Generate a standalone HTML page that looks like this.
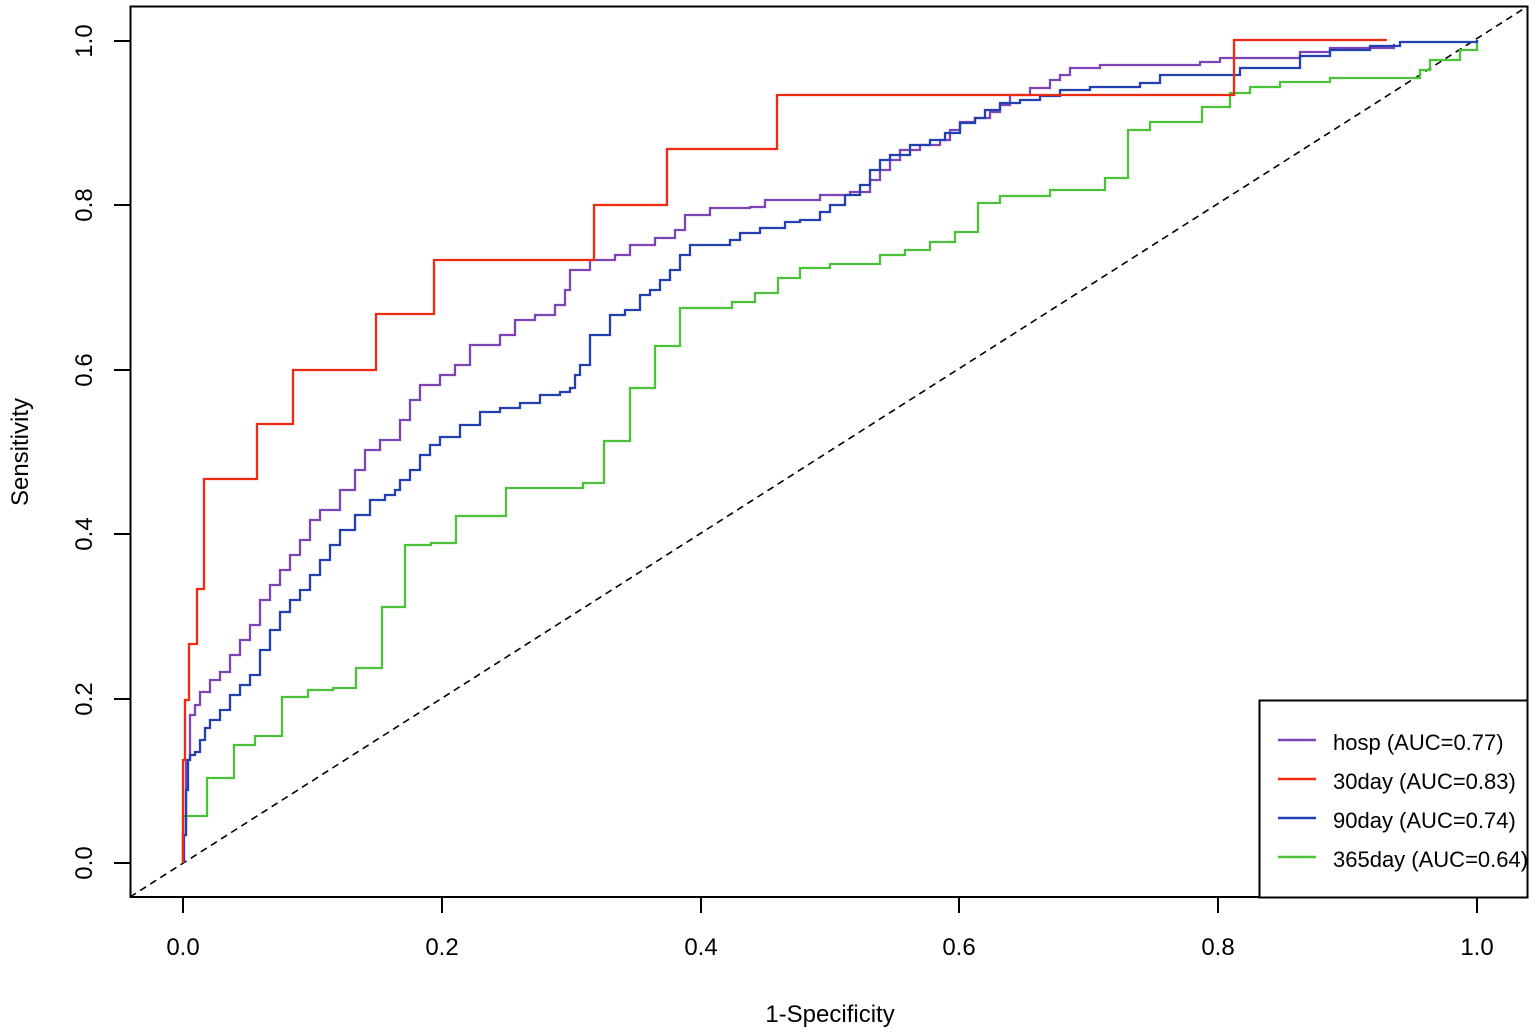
<!DOCTYPE html>
<html><head><meta charset="utf-8"><style>
html,body{margin:0;padding:0;background:#fff;}
svg{display:block;}
text{font-family:"Liberation Sans",sans-serif;fill:#000;}
</style></head><body>
<svg width="1535" height="1034" viewBox="0 0 1535 1034" xmlns="http://www.w3.org/2000/svg">
<rect width="1535" height="1034" fill="#fff"/>
<line x1="130" y1="897" x2="1528" y2="6" stroke="#000" stroke-width="1.6" stroke-dasharray="7,5"/>
<path fill="none" stroke="#4cc23a" stroke-width="2.3" d="M183,863 V816 H207 V778 H234 V745 H255 V736 H282 V697 H308 V690 H333 V688 H356 V668 H382 V607 H405 V545 H431 V543 H456 V516 H506 V488 H583 V483 H604 V441 H630 V388 H655 V346 H680 V308 H732 V302 H755 V293 H778 V278 H800 V268 H830 V264 H880 V255 H905 V250 H930 V242 H955 V232 H978 V203 H1000 V196 H1050 V190 H1105 V178 H1128 V130 H1150 V122 H1202 V107 H1230 V93 H1250 V87 H1280 V82 H1330 V78 H1420 V70 H1430 V60 H1460 V50 H1477 V40"/>
<path fill="none" stroke="#7d44b8" stroke-width="2.3" d="M183,863 V835 H186 V760 H190 V715 H195 V705 H200 V692 H210 V680 H220 V672 H230 V655 H240 V640 H250 V625 H260 V600 H270 V585 H280 V570 H290 V555 H300 V540 H310 V520 H320 V510 H340 V490 H355 V470 H365 V450 H380 V440 H400 V420 H410 V400 H420 V385 H440 V375 H455 V365 H470 V345 H500 V335 H515 V320 H535 V315 H555 V305 H565 V290 H570 V270 H590 V260 H615 V255 H630 V245 H655 V238 H675 V230 H685 V215 H710 V208 H750 V207 H765 V200 H820 V195 H850 V192 H870 V180 H880 V170 H890 V160 H900 V150 H920 V145 H940 V140 H950 V130 H960 V122 H975 V118 H990 V112 H1000 V105 H1010 V95 H1030 V88 H1050 V80 H1060 V75 H1070 V68 H1100 V65 H1200 V62 H1220 V58 H1300 V52 H1330 V48 H1394 V44"/>
<path fill="none" stroke="#2340b0" stroke-width="2.3" d="M184,863 V835 H186 V790 H188 V760 H190 V755 H195 V752 H200 V740 H205 V728 H210 V720 H220 V710 H230 V695 H240 V685 H250 V675 H260 V650 H270 V630 H280 V612 H290 V600 H300 V590 H310 V575 H320 V560 H330 V545 H340 V530 H355 V515 H370 V500 H385 V495 H395 V490 H400 V480 H410 V470 H420 V455 H430 V445 H440 V437 H460 V425 H480 V412 H500 V408 H520 V403 H540 V395 H560 V392 H570 V388 H575 V375 H580 V365 H590 V335 H610 V315 H625 V310 H640 V295 H650 V290 H660 V280 H670 V270 H680 V255 H690 V245 H730 V240 H740 V233 H760 V228 H785 V222 H800 V220 H820 V212 H830 V205 H845 V195 H860 V185 H870 V170 H880 V160 H890 V155 H910 V145 H930 V140 H945 V133 H960 V123 H975 V118 H985 V110 H1000 V103 H1020 V100 H1040 V96 H1060 V90 H1090 V87 H1140 V83 H1160 V75 H1240 V68 H1300 V56 H1330 V50 H1370 V46 H1400 V42 H1477 V40"/>
<path fill="none" stroke="#ee2a10" stroke-width="2.3" d="M183,863 V760 H185 V700 H189 V644 H197 V589 H204 V479 H257 V424 H293 V370 H376 V314 H434 V260 H594 V205 H667 V149 H777 V95 H1234 V40 H1387"/>
<rect x="130.5" y="6.5" width="1397" height="890.5" fill="none" stroke="#000" stroke-width="2"/>
<g stroke="#000" stroke-width="2">
<line x1="183" y1="897" x2="183" y2="913"/><line x1="442" y1="897" x2="442" y2="913"/><line x1="701" y1="897" x2="701" y2="913"/><line x1="959" y1="897" x2="959" y2="913"/><line x1="1218" y1="897" x2="1218" y2="913"/><line x1="1477" y1="897" x2="1477" y2="913"/>
<line x1="114" y1="863" x2="130" y2="863"/><line x1="114" y1="699" x2="130" y2="699"/><line x1="114" y1="534" x2="130" y2="534"/><line x1="114" y1="370" x2="130" y2="370"/><line x1="114" y1="205" x2="130" y2="205"/><line x1="114" y1="41" x2="130" y2="41"/>
</g>
<g font-size="24" text-anchor="middle">
<text x="183" y="955">0.0</text><text x="442" y="955">0.2</text><text x="701" y="955">0.4</text><text x="959" y="955">0.6</text><text x="1218" y="955">0.8</text><text x="1477" y="955">1.0</text>
<text transform="translate(92,863) rotate(-90)">0.0</text>
<text transform="translate(92,699) rotate(-90)">0.2</text>
<text transform="translate(92,534) rotate(-90)">0.4</text>
<text transform="translate(92,370) rotate(-90)">0.6</text>
<text transform="translate(92,205) rotate(-90)">0.8</text>
<text transform="translate(92,41) rotate(-90)">1.0</text>
<text x="830" y="1022">1-Specificity</text>
<text transform="translate(28,452) rotate(-90)">Sensitivity</text>
</g>
<rect x="1259.5" y="700.5" width="268" height="197" fill="#fff" stroke="#000" stroke-width="2"/>
<g stroke-width="2.5">
<line x1="1278" y1="740" x2="1316" y2="740" stroke="#7d44b8"/>
<line x1="1278" y1="779" x2="1316" y2="779" stroke="#ee2a10"/>
<line x1="1278" y1="818" x2="1316" y2="818" stroke="#2340b0"/>
<line x1="1278" y1="857" x2="1316" y2="857" stroke="#4cc23a"/>
</g>
<g font-size="22">
<text x="1333" y="750">hosp (AUC=0.77)</text>
<text x="1333" y="789">30day (AUC=0.83)</text>
<text x="1333" y="828">90day (AUC=0.74)</text>
<text x="1333" y="867">365day (AUC=0.64)</text>
</g>
</svg>
</body></html>
